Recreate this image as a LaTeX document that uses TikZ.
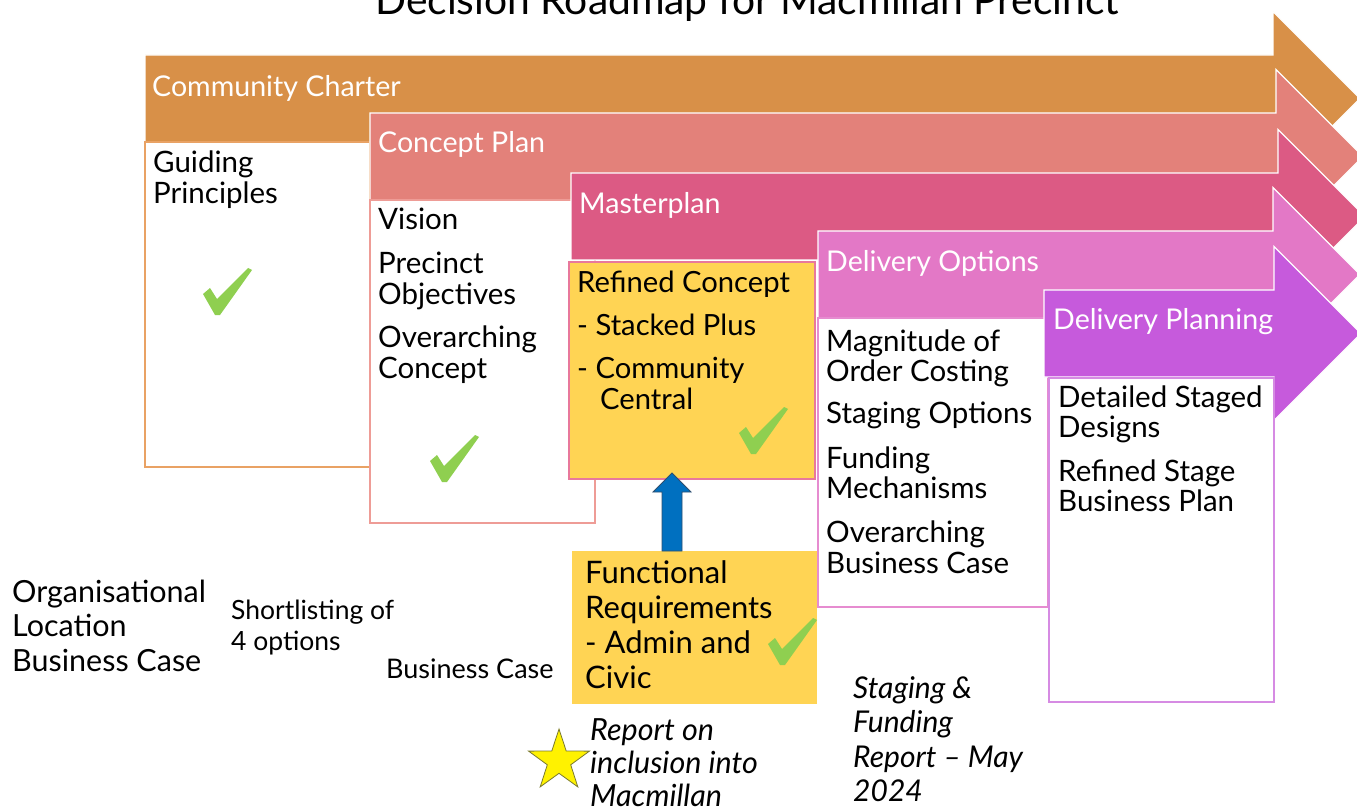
\documentclass[tikz,border=0pt]{standalone}
\usepackage{fontspec}
\setmainfont{Lato}
\usetikzlibrary{calc,shapes.geometric}
\definecolor{cOr}{HTML}{D89048}
\definecolor{cSa}{HTML}{E3817A}
\definecolor{cMa}{HTML}{DC5A84}
\definecolor{cDo}{HTML}{E378C6}
\definecolor{cDp}{HTML}{C65ADC}
\definecolor{cYe}{HTML}{FFD454}
\definecolor{cGr}{HTML}{8FCF50}
\definecolor{cBl}{HTML}{0070C0}
\definecolor{cBlD}{HTML}{2F4F6F}
\definecolor{bOr}{HTML}{E9A264}
\definecolor{bSa}{HTML}{EE9C96}
\definecolor{bMa}{HTML}{E8789C}
\definecolor{bDo}{HTML}{E68CD0}
\definecolor{bDp}{HTML}{D68BE3}
\definecolor{stEdge}{HTML}{7A7A30}
\newcommand\tl[1]{\begin{tabular}[t]{@{}l@{}}#1\end{tabular}}
\tikzset{
  phase/.style={draw=white, line width=1.2pt},
  box/.style={anchor=north west, inner sep=0pt, outer sep=0pt, line width=1.2pt, fill=white},
  head/.style={anchor=base west, inner sep=0pt, text=white, font=\fontsize{28.6}{30}\selectfont},
  body/.style={anchor=base west, inner sep=0pt, font=\fontsize{29.5}{30}\selectfont},
  chk/.pic={\fill[cGr] (0,26) -- (7,20) -- (14,31) -- (45,0) -- (49,2) -- (17,47) -- (12,47) -- cycle;}
}
\begin{document}
\begin{tikzpicture}[x=1pt,y=-1pt]
\useasboundingbox (0,0) rectangle (1357,810);
\fill[white] (0,0) rectangle (1357,810);

\node[anchor=base west, inner sep=0pt, font=\fontsize{40.8}{48}\selectfont] (title) at (375,15) {Decision Roadmap for Macmillan Precinct};

% phase 1
\fill[cOr, phase] (145,55) -- (1273,55) -- (1273,11.5) -- (1360,98.5) -- (1273,185.5) -- (1273,142) -- (145,142) -- cycle;
\node[box, draw=bOr, minimum width=225, minimum height=325] (b1) at (145,142) {};
% phase 2
\fill[cSa, phase] (370,113) -- (1276,113) -- (1276,69.5) -- (1363,156.5) -- (1276,243.5) -- (1276,200) -- (370,200) -- cycle;
\node[box, draw=bSa, minimum width=225, minimum height=323] (b2) at (370,200) {};
% phase 3
\fill[cMa, phase] (571,173) -- (1278,173) -- (1278,129.5) -- (1365,216.5) -- (1278,303.5) -- (1278,260) -- (571,260) -- cycle;
\node[box, draw=bMa, fill=cYe, minimum width=246, minimum height=217] (b3) at (569,262) {};
% phase 4
\fill[cDo, phase] (818,231) -- (1273,231) -- (1273,187.5) -- (1360,274.5) -- (1273,361.5) -- (1273,318) -- (818,318) -- cycle;
\node[box, draw=bDo, minimum width=230, minimum height=289] (b4) at (818,318) {};
% phase 5
\fill[cDp, phase] (1044,290) -- (1274,290) -- (1274,246.5) -- (1361,333.5) -- (1274,420.5) -- (1274,377) -- (1044,377) -- cycle;
\node[box, draw=bDp, minimum width=225, minimum height=324] (b5) at (1049,378) {};

% functional requirements box
\node[box, fill=cYe, minimum width=245, minimum height=153] (fr) at (572,551) {};

% blue arrow
\coordinate (ab) at ($(fr.north west)+(100,0)$);
\coordinate (at) at ($(b3.south west)+(103,-6)$);
\filldraw[fill=cBl, draw=cBlD, line width=0.8pt]
  ($(ab)+(-10,0)$) -- ($(at)+(-10,19)$) -- ($(at)+(-19,19)$) -- (at) -- ($(at)+(19,19)$) -- ($(at)+(10,19)$) -- ($(ab)+(10,0)$) -- cycle;

% headers
\node[head] (h1) at (152,97) {Community Charter};
\node[head] (h2) at (378,153) {Concept Plan};
\node[head] (h3) at (579,214) {Masterplan};
\node[head] (h4) at (826,272) {Delivery Options};
\node[head] (h5) at (1053,330) {Delivery Planning};

% box texts
\node[body] (t1) at (153,173) {\tl{Guiding\\Principles}};
\node[body] (t2) at (378,230) {\tl{Vision\\[13pt]Precinct\\Objectives\\[13pt]Overarching\\Concept}};
\node[body, font=\fontsize{29.2}{30}\selectfont] (t3) at (577,293) {\tl{Refined Concept\\[12pt]- Stacked Plus\\[13pt]- Community\\\hspace{23pt}Central}};
\node[body] (t4) at (826,351) {\tl{Magnitude of\\Order Costing\\[11pt]Staging Options\\[14pt]Funding\\Mechanisms\\[13pt]Overarching\\Business Case}};
\node[body] (t5) at (1058,407) {\tl{Detailed Staged\\Designs\\[13pt]Refined Stage\\Business Plan}};
\node[body, font=\fontsize{31}{35}\selectfont] (t6) at (585,583) {\tl{Functional\\Requirements\\- Admin and\\Civic}};

% loose texts
\node[body, font=\fontsize{30.5}{34.5}\selectfont] (org) at (12,602) {\tl{Organisational\\Location\\Business Case}};
\node[body, font=\fontsize{26.5}{31}\selectfont] (sl) at (231,619) {\tl{Shortlisting of\\4 options}};
\node[body, font=\fontsize{27}{31}\selectfont] (bc) at (386,678) {Business Case};
\node[body, font=\fontsize{30.5}{33}\itshape] (rep) at (590,740) {\tl{Report on\\inclusion into\\Macmillan}};
\node[body, font=\fontsize{30}{34.5}\itshape] (sfr) at (853,698) {\tl{Staging \&\\Funding\\Report – May\\2024}};

% star
\node[star, star points=5, star point ratio=2.6, fill=yellow, draw=stEdge, line width=0.8pt, minimum size=64, inner sep=0pt] (st) at (559,761) {};

% checks
\pic at (203,268) {chk};
\pic at (430,435) {chk};
\pic at (739,407) {chk};
\pic at (768,618) {chk};
\end{tikzpicture}
\end{document}
